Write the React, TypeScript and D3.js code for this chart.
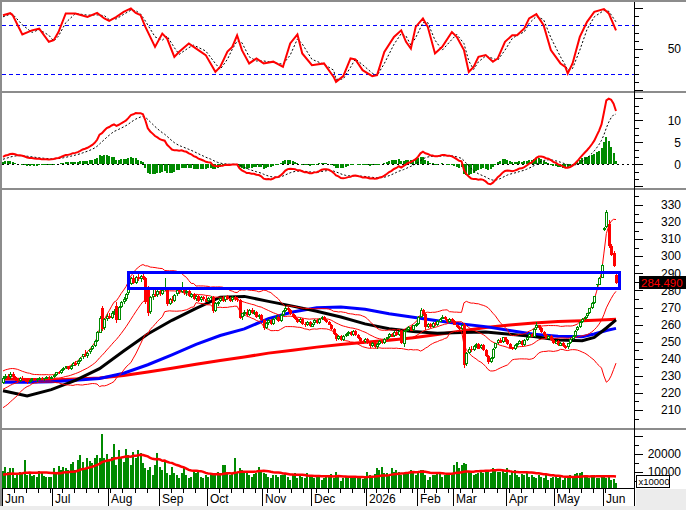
import React from "react";
import * as d3 from "d3";

// daily candles [open, high, low, close], Jun 2025 .. Jun 2026
const candles: [number, number, number, number][] = [
  [226,230,225,229],[229,231,228,230],[230,231,228,229],[229,232,228,231],[231,232,229,229.5],
  [229.5,230,227,228],[228,229,226,227],[227,229.5,226.5,229],[229,230,227.5,228],[228,229,226.5,227.5],
  [227.5,228,225.5,226.5],[226.5,228,226,227.5],[227.5,229,227,228.5],[228.5,229,227,227.5],[227.5,228.5,226.5,228],
  [228,229.5,227.5,229],[229,229.5,227.5,228],[228,229,227,228.5],[228.5,230,228,229.5],[229.5,230,228,228.5],
  [228.5,230,228,229.5],[229.5,231,229,230.5],[230.5,232.5,230,232],[232,233,231,231.5],[231.5,234,231,233.5],
  [233.5,235,233,234.5],[234.5,236,234,235.5],[235.5,236,233.5,234],[234,236.5,233.5,236],[236,238,235.5,237.5],
  [237.5,238.5,236,236.5],[236.5,239,236,238.5],[238.5,241,238,240.5],[240.5,243,240,242.5],[242.5,245,241,241.5],
  [241.5,244,240.5,243.5],[243.5,246,243,245.5],[245.5,248,245,247.5],[247.5,251,247,250.5],[250.5,256,250,255.5],
  [255.5,265,255,264],[270,271,256,257.5],[258,264,257,263],[263,266,262,265],[265,267,263,264],
  [264,268,263.5,267],[267,269,265.5,268],[271,273,261,262.5],[263,271,262.5,270.5],[270.5,274,270,273.5],
  [273.5,276,272,275],[275,278.5,274,278],[278,284,277.5,283.5],[283.5,288,283,287],[287,289,283.5,284.5],
  [284.5,288.5,284,288],[288,289.5,285.5,286.5],[286.5,289,285,288.5],[288.5,290,286,287],[287,288,272,273.5],
  [281,282.5,265,266.5],[267,276.5,266,276],[276,280,274.5,278],[278,280.5,276,277],[277,280,276,279.5],
  [279.5,281,277,278],[278,281,277.5,280.5],[280.5,287,279.5,281.5],[280,280.5,271,272],[272,275.5,271.5,275],
  [275,276.5,272.5,274],[274,278,273.5,277.5],[277.5,280.5,277,280],[280,281.5,278,279],[279,285,278.5,281.5],
  [281.5,282,277.5,278.5],[278.5,280,277,279.5],[279.5,280,276,276.5],[276.5,278.5,275.5,278],[278,278.5,274.5,275],
  [275,277.5,274,277],[277,277.5,273.5,274],[274,276.5,273.5,276],[276,277,274,275],[275,276.5,273,273.5],
  [273.5,276,273,275.5],[275.5,277,274.5,276],[276,276.5,267,268],[268,273,267.5,272.5],[272.5,274,271,273.5],
  [273.5,276,273,275.5],[275.5,276.5,273,274],[274,277,273.5,276.5],[276.5,277.5,274.5,275],[275,276,273,274],
  [274,276.5,273.5,276],[276,277,274,275],[275,276,273.5,274.5],[274.5,275,263,264],[264,267,262.5,266.5],
  [266.5,268.5,265,267.5],[267.5,269,265,265.5],[265.5,269,265,268.5],[268.5,269.5,266,266.5],[266.5,268.5,265.5,267.5],
  [267.5,268,264,264.5],[264.5,266,263,265.5],[265.5,266,262,262.5],[262.5,263,257,258],[258,261.5,257.5,261],
  [261,263.5,260,262.5],[262.5,263,259.5,260.5],[260.5,264,260,263.5],[263.5,265.5,262.5,264.5],[264.5,265,261.5,262],
  [262,266,261.5,265.5],[265.5,268.5,265,268],[268,271,267.5,270],[270,270.5,267.5,268.5],[268.5,269,265.5,266],
  [266,267,264,264.5],[264.5,265.5,262.5,263.5],[263.5,264,261,261.5],[261.5,264,261,263.5],[263.5,264,260,260.5],
  [260.5,261.5,258.5,259.5],[259.5,262,259,261.5],[261.5,262,258.5,259],[259,261,258.5,260.5],[260.5,263,260,262.5],
  [262.5,263,260.5,261],[261,264,260.5,263.5],[263.5,265,262.5,264.5],[264.5,265,262,262.5],[262.5,263.5,261,261.5],
  [261.5,262,259.5,260],[260,260.5,257,257.5],[257.5,258,254,254.5],[254.5,255,250.5,251.5],[251.5,254,251,253.5],
  [253.5,254,250.5,251],[251,254,250.5,253.5],[253.5,255,253,254.5],[254.5,256,253.5,255.5],[255.5,256,253.5,254],
  [254,257,253.5,256.5],[256.5,257,253.5,254],[254,254.5,251.5,252],[252,253,250,250.5],[250.5,251,248.5,249.5],
  [249.5,252,249,251.5],[251.5,252,248.5,249],[249,249.5,246.5,247.5],[247.5,250,247,249.5],[249.5,250,246.5,247],
  [247,249,246,248.5],[248.5,251,248,250.5],[250.5,251,248.5,249],[249,252,248.5,251.5],[251.5,253,251,252.5],
  [252.5,255,252,254.5],[254.5,255,252.5,253],[253,256,252.5,255.5],[255.5,256,253.5,254],[254,257,253.5,256.5],
  [256.5,257,248.5,249],[249,257,247,256.5],[256.5,258,255.5,257],[257,259,256.5,258.5],[258.5,259,256,256.5],
  [256.5,260,256,259.5],[259.5,261,258.5,260.5],[260.5,265,260,264.5],[264.5,270,264,268.5],[268.5,269,265,266],
  [266,267,257,258.5],[258.5,261,258,260.5],[260.5,261,258,258.5],[258.5,261.5,258,261],[261,261.5,259,259.5],
  [259.5,262.5,259,262],[262,264,261.5,263.5],[263.5,265.5,263,264.5],[264.5,265,262.5,263],[263,263.5,261,261.5],
  [261.5,264,261,263.5],[263.5,264,261.5,262],[262,262.5,259.5,260],[260,260.5,258,258.5],[258.5,259,257,257.5],
  [257.5,260.5,257,260],[260,261,234.5,236.5],[237,244,236,243.5],[243.5,247,243,246],[246,247.5,244,245],
  [245,248,244.5,247.5],[247.5,249,246.5,248.5],[248.5,249,245.5,246],[246,248.5,245.5,248],[248,248.5,244.5,245],
  [245,246,241,241.5],[241.5,242,237,238],[238,241,237.5,240.5],[240.5,246.5,240,246],[246,249.5,245.5,249],
  [249,251.5,248.5,251],[251,252,249,249.5],[249.5,253,249,252.5],[252.5,253,250,251],[251,251.5,248,248.5],
  [248.5,249,246,246.5],[246.5,247,245,245.5],[245.5,248.5,245,248],[248,249.5,247,249],[249,251,248.5,250.5],
  [250.5,251,247.5,248],[248,251.5,247.5,251],[251,253,250.5,252.5],[252.5,255,252,254.5],[254.5,255,252.5,253],
  [253,258,252.5,257.5],[257.5,261.5,257,259.5],[259.5,260,257,258],[258,258.5,255,255.5],[255.5,256,253,254],
  [254,254.5,251.5,252],[252,254,251.5,253.5],[253.5,254,250.5,251],[251,251.5,248.5,249],[249,251,248.5,250.5],
  [250.5,251,247.5,248],[248,250,247.5,249.5],[249.5,250,247,247.5],[247.5,248,246,246.5],[246.5,249.5,246,249],
  [249,252,248.5,251.5],[251.5,254,251,253.5],[253.5,257,253,256.5],[256.5,259,256,258.5],[258.5,262,258,261.5],
  [261.5,264,261,263.5],[263.5,265,262.5,264.5],[264.5,267,264,266.5],[266.5,270,266,269.5],[269.5,273,269,272.5],
  [272.5,277,272,276.5],[283,284,282,283.5],[283.5,288,283,287.5],[287.5,295.5,287,295],[315.5,317,315,316.5],
  [317,327,316.5,326],[319,321,305,306],[306,307,300,301],[302,303,293.5,294.5],[289,290,284,284.49],
];

// closes of the 19 sessions before the first candle (for the 20-day bands)
const priorCloses = [214,215,214,216,217,218,217,219,221,222,224,223,225,227,226,228,229,228,230];
const macdSeed = { ema12: 224, ema26: 222.6, signal: 1.0 };

const volumes = [
  10600,13000,10200,12400,12000,6500,8300,10200,9000,16700,8300,8700,7900,8300,7400,10600,9300,8000,7400,7400,
  7400,12000,9300,13500,11100,13000,12000,11100,14300,15700,11100,16700,19400,15700,12400,17600,16100,14800,17600,19400,
  18000,31100,17600,19800,16700,18500,25400,13900,22200,17600,15700,22800,19400,13900,21300,17600,22200,20400,14800,12000,
  11100,13000,8300,13900,20400,13000,11100,15700,9300,8300,13000,9300,8300,6500,9300,12000,8300,6500,7400,10200,
  9300,10200,7400,6500,8300,7400,8700,9300,8300,10200,9300,13900,13900,10200,8300,9300,17600,10200,12000,11100,
  9300,10200,8300,7400,8700,9300,13000,11100,9300,8700,7400,6900,8300,8300,7400,8300,8300,9300,7400,5600,
  8300,9300,6500,8300,7400,6500,9300,8300,7400,6500,7400,8300,5600,6500,8300,7400,8700,6900,10000,8300,
  5000,6500,7000,6500,7400,6900,7400,6500,7000,6000,6500,10200,8300,7400,8700,12000,11100,13000,9300,9300,
  8300,12000,10200,11100,10200,8300,9300,10200,10200,11100,9300,8300,10200,11100,11100,8300,5600,7400,8300,8300,
  9300,10200,7400,8300,9300,8300,9300,13900,15700,12000,13900,14800,14300,10200,9300,8300,8700,9300,10200,9300,
  10200,11100,9300,12000,10600,10200,10200,11100,9300,12000,8300,10200,11100,8300,7400,8700,8300,9300,7400,8300,
  7400,6500,8300,7400,6500,8300,5600,6500,7400,8300,6500,7400,5600,6900,6500,8300,7400,8700,9300,9300,
  9800,8300,7400,6500,7400,8300,6900,6500,7400,8300,6500,7400,5600,6000,3900,
];
const priorVolumes = [8300,7400,9300,8700,7900,8300,9000,7400,8700,8300,7900,9300,8000,7400,8700,9300,8300,7900,8700];

// oscillator (top panel) read at [session index, value]
const oscPoints: [number, number][] = [
  [0,91.6],[3,94],[4,91.6],[8,68],[12,73],[15,75],[19,59],[21,61],[23,71],[26,93.7],[30,93.7],[35,89.5],
  [39,94.4],[42,87.6],[44,84.7],[47,89.5],[50,95.7],[53,99.8],[55,94.4],[57,91.6],[59,77.3],[63,52.8],
  [66,69],[68,63],[71,40.6],[73,46.7],[77,57],[79,52.8],[84,42.7],[88,22.2],[90,28.3],[93,47],[95,52.8],
  [97,67],[99,48.8],[102,32.5],[105,38.6],[108,32.5],[112,34.7],[116,28.3],[119,57],[122,68],[124,44.7],
  [128,30.4],[133,32.5],[137,16],[138,10],[141,17],[144,38.6],[146,37.5],[149,24.3],[153,17],[155,18.2],
  [158,46.7],[162,65],[165,73],[167,59],[169,50.8],[171,77.3],[174,87.6],[176,77.3],[179,44.7],[182,52.8],
  [186,71],[188,65],[191,48.8],[193,22.2],[195,28.3],[197,40.6],[200,42.7],[203,34.5],[205,38.6],[208,59],
  [211,67],[213,67],[216,75.3],[218,87.6],[221,92.8],[224,79.4],[227,48.8],[231,32.5],[233,28.3],[234,20.2],
  [236,32.5],[239,65],[242,83.4],[245,95.7],[249,99],[251,93.7],[254,73],
];

// moving averages read every 10 sessions
const maIdx = [0,10,20,30,40,50,60,70,80,90,100,110,120,130,140,150,160,170,180,190,200,210,220,230,240,245,250,254];
const maBlack = [221.3,218.2,221.9,227.4,234.2,244.5,254.5,262.5,269.5,276,276.5,273.6,270.8,267.8,264.4,260.4,257.6,256,254.9,255.4,255.6,254.3,253,251,250.5,252.5,258,262.7];
const maBlue = [226.2,226.3,226.6,227.4,228.4,231.5,236.5,242.3,248.4,253.6,257.5,263.5,267.4,269.8,270.3,269,266.4,264.3,262.2,260.3,258.8,256.5,254.3,253.2,252.9,254.5,256.5,257.8];
const maRed = [228.1,227.8,227.6,228.1,228.8,230.2,232.3,234.5,236.8,239,241,243.3,245,246.8,248.3,249.7,250.8,252.3,254.2,256.3,258.3,259.7,260.9,261.8,262.3,262.6,262.9,263.1];

// resistance zone
const zoneIdx = [52, 255.6];
const zonePrice = [281, 290.2];

const monthStarts = [0,21,44,65,85,108,128,151,172,187,209,229,249];
const monthLabels = ["Jun","Jul","Aug","Sep","Oct","Nov","Dec","2026","Feb","Mar","Apr","May","Jun"];

const GREEN = "#008a00";
const RED = "#ff0000";
const FONT = "Liberation Sans, Arial, sans-serif";
const AX = 634;

export default function App() {
  const n = candles.length;
  const closes = candles.map((c) => c[3]);
  const xs = d3.scaleLinear().domain([0, n - 1]).range([3, 616]);
  const yP = d3.scaleLinear().domain([210, 330]).range([410, 205]);
  const yR = d3.scaleLinear().domain([0, 100]).range([90, 8.3]);
  const yM = d3.scaleLinear().domain([0, 10]).range([164.3, 120.3]);
  const yV = d3.scaleLinear().domain([0, 20000]).range([490, 454]);

  // bollinger 20, 2
  const all = [...priorCloses, ...closes];
  const P = priorCloses.length;
  const boll = closes.map((_, i) => {
    const win = all.slice(P + i - 19, P + i + 1);
    const m = d3.mean(win) as number;
    const sd = Math.sqrt(d3.mean(win, (v) => (v - m) ** 2) as number);
    return { i, mid: m, up: m + 2 * sd, lo: m - 2 * sd };
  });

  // MACD 12/26/9
  let e12 = macdSeed.ema12, e26 = macdSeed.ema26, sig = macdSeed.signal;
  const macd = closes.map((c, i) => {
    e12 += (2 / 13) * (c - e12);
    e26 += (2 / 27) * (c - e26);
    const m = e12 - e26;
    sig += 0.2 * (m - sig);
    return { i, m, s: sig, h: m - sig };
  });

  const allV = [...priorVolumes, ...volumes];
  const PV = priorVolumes.length;
  const volMA = volumes.map((_, i) => ({ i, v: d3.mean(allV.slice(PV + i - 19, PV + i + 1)) as number }));

  const oscSig = oscPoints.map((p, k) => [p[0], k === 0 ? p[1] - 2 : (oscPoints[k - 1][1] + p[1]) / 2] as [number, number]);

  const line = (y: any) => d3.line<[number, number]>().x((d) => xs(d[0])).y((d) => y(d[1]));
  const lineP = line(yP), lineR = line(yR), lineM = line(yM), lineV = line(yV);
  const maLine = (vals: number[]) => lineP(maIdx.map((k, j) => [k, vals[j]] as [number, number]));

  const cx = (i: number) => Math.round(xs(i));

  const priceTicks = d3.range(205, 340, 5);
  const macdTicks = d3.range(0, 13).map((k) => -5 + (k * 5) / 3);
  const volTicks = d3.range(5000, 35000, 5000);
  const weekTicks = d3.range(0, n, 5);

  const tick = (y: number, major: boolean, key: string) => (
    <line key={key} x1={AX} x2={AX + (major ? 9 : 5)} y1={Math.round(y) + 0.5} y2={Math.round(y) + 0.5} stroke="#000" />
  );
  const label = (y: number, t: string, key: string) => (
    <text key={key} x={681} y={y} dy="0.35em" textAnchor="end" fontSize={12} fontFamily={FONT} fill="#000">{t}</text>
  );

  const last = closes[n - 1];

  return (
    <svg width={686} height={510} style={{ position: "absolute", left: 0, top: 0 }} shapeRendering="crispEdges">
      <defs>
        <clipPath id="cR"><rect x={2} y={2} width={AX - 2} height={89} /></clipPath>
        <clipPath id="cM"><rect x={2} y={93} width={AX - 2} height={95} /></clipPath>
        <clipPath id="cP"><rect x={2} y={190} width={AX - 2} height={237} /></clipPath>
        <clipPath id="cV"><rect x={2} y={429} width={AX - 2} height={59} /></clipPath>
      </defs>
      <rect x={0} y={0} width={686} height={510} fill="#fff" />
      <rect x={636} y={489} width={50} height={21} fill="#ececec" />
      <rect x={0} y={506} width={686} height={4} fill="#ececec" />

      {/* oscillator */}
      <g clipPath="url(#cR)">
        {[80, 20].map((v) => (
          <line key={v} x1={2} x2={AX} y1={Math.round(yR(v)) + 0.5} y2={Math.round(yR(v)) + 0.5} stroke="#0000ff" strokeDasharray="4 3" />
        ))}
        <path d={lineR(oscSig) || ""} fill="none" stroke="#000" strokeDasharray="2 2" shapeRendering="auto" />
        <path d={lineR(oscPoints) || ""} fill="none" stroke={RED} strokeWidth={2} shapeRendering="auto" />
      </g>

      {/* MACD */}
      <g clipPath="url(#cM)">
        <line x1={2} x2={AX} y1={164.5} y2={164.5} stroke="#000" strokeDasharray="2 3" />
        {macd.map((d) => {
          const y0 = yM(0), y1 = yM(d.h);
          return <rect key={d.i} x={cx(d.i) - 1} width={2} y={Math.min(y0, y1)} height={Math.max(0.5, Math.abs(y1 - y0))} fill={GREEN} />;
        })}
        <path d={lineM(macd.map((d) => [d.i, d.s] as [number, number])) || ""} fill="none" stroke="#000" strokeDasharray="2 2" shapeRendering="auto" />
        <path d={lineM(macd.map((d) => [d.i, d.m] as [number, number])) || ""} fill="none" stroke={RED} strokeWidth={2} shapeRendering="auto" />
      </g>

      {/* price */}
      <g clipPath="url(#cP)">
        <path d={maLine(maRed) || ""} fill="none" stroke={RED} strokeWidth={3} shapeRendering="auto" />
        <path d={maLine(maBlue) || ""} fill="none" stroke="#0000ff" strokeWidth={3} shapeRendering="auto" />
        <path d={maLine(maBlack) || ""} fill="none" stroke="#000" strokeWidth={3} shapeRendering="auto" />
        {(["up", "mid", "lo"] as const).map((k) => (
          <path key={k} d={lineP(boll.map((b) => [b.i, b[k]] as [number, number])) || ""} fill="none" stroke={RED} strokeWidth={1} shapeRendering="auto" />
        ))}
        {candles.map(([o, h, l, c], i) => {
          const x = cx(i);
          const up = c >= o;
          const col = up ? GREEN : RED;
          const top = yP(Math.max(o, c)), bot = yP(Math.min(o, c));
          const bh = bot - top;
          return (
            <g key={i}>
              <line x1={x + 0.5} x2={x + 0.5} y1={yP(h)} y2={yP(l)} stroke={col} />
              {bh < 1.5 ? (
                <line x1={x - 1} x2={x + 2} y1={Math.round(top) + 0.5} y2={Math.round(top) + 0.5} stroke={col} />
              ) : up ? (
                <rect x={x - 0.5} y={Math.round(top) + 0.5} width={2} height={Math.max(1, Math.round(bh) - 1)} fill="#fff" stroke={col} />
              ) : (
                <rect x={x - 1} y={top} width={3} height={bh} fill={col} />
              )}
            </g>
          );
        })}
        <rect
          x={xs(zoneIdx[0])}
          y={yP(zonePrice[1])}
          width={xs(zoneIdx[1]) - xs(zoneIdx[0])}
          height={yP(zonePrice[0]) - yP(zonePrice[1])}
          fill="none"
          stroke="#0000ff"
          strokeWidth={3}
        />
      </g>

      {/* volume */}
      <g clipPath="url(#cV)">
        {volumes.map((v, i) => (
          <rect key={i} x={cx(i) - 1} width={2} y={yV(v)} height={490 - yV(v)} fill={GREEN} />
        ))}
        <path d={lineV(volMA.map((d) => [d.i, d.v] as [number, number])) || ""} fill="none" stroke={RED} strokeWidth={2.5} shapeRendering="auto" />
      </g>

      {/* frame */}
      <rect x={0} y={0} width={686} height={2} fill="#8c8c8c" />
      <rect x={0} y={91} width={686} height={2} fill="#8c8c8c" />
      <rect x={0} y={188} width={686} height={2} fill="#8c8c8c" />
      <rect x={0} y={427.5} width={686} height={2} fill="#8c8c8c" />
      <rect x={0} y={0} width={2} height={506} fill="#8c8c8c" />
      <line x1={AX + 0.5} x2={AX + 0.5} y1={2} y2={506} stroke="#000" />
      <line x1={2} x2={AX} y1={488.5} y2={488.5} stroke="#000" />

      {/* right axes */}
      {d3.range(0, 101, 10).map((v) => tick(yR(v), v % 50 === 0, "r" + v))}
      {label(yR(50), "50", "rl")}
      {macdTicks.map((v, k) => tick(yM(v), k % 3 === 0, "m" + k))}
      {[10, 5, 0].map((v) => label(yM(v), String(v), "ml" + v))}
      {priceTicks.map((v) => tick(yP(v), v % 10 === 0, "p" + v))}
      {priceTicks.filter((v) => v % 10 === 0 && v >= 210 && v <= 330).map((v) => label(yP(v), String(v), "pl" + v))}
      {volTicks.map((v) => tick(yV(v), v % 10000 === 0, "v" + v))}
      {[20000, 10000].map((v) => label(yV(v), String(v), "vl" + v))}

      {/* last price tag */}
      <rect x={639} y={Math.round(yP(last)) - 7} width={47} height={13} fill="#000" />
      <text x={641} y={yP(last)} dy="0.36em" fontSize={11.5} fontFamily={FONT} fill={RED}>{last.toFixed(3)}</text>

      <rect x={636.5} y={475.5} width={33} height={12} fill="#fff" stroke="#000" />
      <text x={638.5} y={484.5} fontSize={9.5} fontFamily={FONT} fill="#000">x10000</text>

      {/* date axis */}
      {weekTicks.map((i) => (
        <line key={"w" + i} x1={Math.round(xs(i) - 1.2) + 0.5} x2={Math.round(xs(i) - 1.2) + 0.5} y1={489} y2={493} stroke="#000" />
      ))}
      {monthStarts.map((i, k) => {
        const x = Math.round(xs(i) - 1.2) + 0.5;
        return (
          <g key={"mo" + k}>
            <line x1={x} x2={x} y1={489} y2={506} stroke="#000" />
            <text x={x + 2.5} y={503} fontSize={12} fontFamily={FONT} fill="#000">{monthLabels[k]}</text>
          </g>
        );
      })}
    </svg>
  );
}
